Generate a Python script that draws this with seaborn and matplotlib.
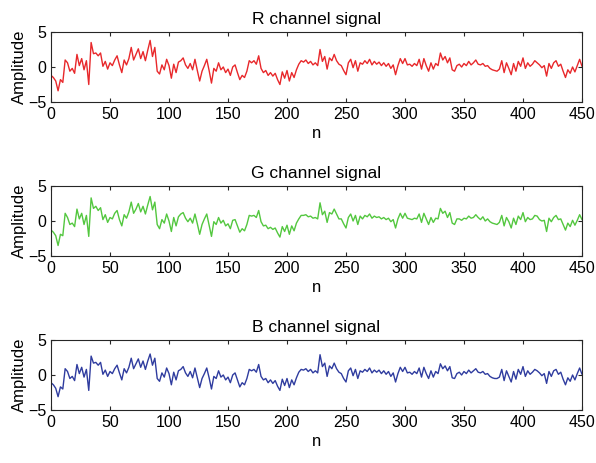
import numpy as np
import pandas as pd
import matplotlib
matplotlib.use("Agg")
import matplotlib.pyplot as plt
import seaborn as sns

# 采样序号（每隔2个点读取一次）
n_vals = np.arange(0, 451, 2)

# R 通道
r_vals = [
    -1.2, -1.5, -2.0, -3.4, -1.8,
    -2.2, 1.0, 0.6, -0.6, -0.2,
    -0.9, 1.8, 0.2, 1.2, -0.4,
    0.9, -2.5, 3.5, 1.9, 2.0,
    1.6, 2.0, 0.1, 0.8, -0.3,
    0.6, 0.2, 1.0, 1.6, 0.3,
    -0.8, 1.0, 0.3, 1.2, 2.8,
    1.0, 1.8, 2.6, 1.2, 2.2,
    0.9, 2.4, 3.8, 1.5, 2.8,
    -0.6, -1.0, 0.3, -0.4, 1.1,
    0.2, -1.6, 0.4, -0.8, 0.7,
    0.9, 1.3, 0.3, -0.2, 0.5,
    -0.4, 1.1, -0.5, -2.0, -0.6,
    0.2, 1.1, -0.5, -2.3, -0.2,
    -0.6, 0.6, -0.4, 0.0, -0.8,
    -0.3, -1.2, 0.0, 0.3, -0.8,
    -1.8, -1.2, -1.5, -0.6, 0.9,
    0.6, 0.9, 0.4, 1.6, -0.2,
    -0.8, -0.5, -1.2, -0.8, -1.3,
    -0.9, -1.8, -2.5, -0.7, -1.6,
    -0.5, -2.0, -0.8, -1.5, -0.4,
    0.4, 0.9, 0.7, 1.0, 0.5,
    0.8, 0.3, 0.6, 0.2, 2.5,
    0.8, 1.5, -0.3, 1.3, 0.9,
    1.8, 0.9, 0.4, 0.2, -0.5,
    -1.1, 0.6, 1.1, -0.1, 0.9,
    -0.6, 0.6, 0.4, 0.9, 0.5,
    1.1, 0.3, 0.8, 0.4, 0.7,
    0.2, 0.6, 0.1, 0.5, -0.2,
    0.3, -1.1, 0.2, 1.2, 0.5,
    1.2, 0.3, 0.4, 0.1, 0.5,
    0.2, 1.1, -0.3, 1.2, 0.2,
    -0.6, 0.6, -0.3, 0.5, 0.2,
    2.0, 1.0, 1.5, 0.6, 1.3,
    -0.4, -0.6, 0.2, 0.4, 0.0,
    0.5, 0.2, 0.8, 0.3, 0.6,
    1.0, 0.4, 0.3, 0.5, 0.1,
    0.2, -0.2, -0.4, -0.5, -0.6,
    -0.3, 0.9, -0.8, 0.6, -0.2,
    -1.1, 0.5, -0.6, 0.8, 0.1,
    1.3, -0.2, 0.6, 0.1, 0.4,
    0.9, 0.6, 0.3, -0.1, 0.2,
    -1.3, 0.5, -0.2, 0.6, 0.9,
    0.1, 0.4, -0.6, -1.5, -0.4,
    -0.9, 0.0, -0.7, 0.2, 1.1,
    0.1,
]

# G 通道
g_vals = [
    -1.3, -1.6, -2.1, -3.5, -1.9,
    -2.1, 1.1, 0.5, -0.5, -0.3,
    -0.8, 1.7, 0.3, 1.1, -0.5,
    0.8, -2.2, 3.3, 1.8, 2.1,
    1.5, 1.9, 0.2, 0.9, -0.2,
    0.5, 0.3, 1.1, 1.5, 0.2,
    -0.7, 0.9, 0.4, 1.3, 2.7,
    1.1, 1.7, 2.5, 1.3, 2.1,
    1.0, 2.3, 3.5, 1.6, 2.7,
    -0.5, -1.1, 0.2, -0.3, 1.0,
    0.0, -1.5, 0.5, -0.7, 0.6,
    1.0, 1.2, 0.4, -0.1, 0.4,
    -0.3, 1.0, -0.4, -1.9, -0.5,
    0.3, 1.0, -0.6, -2.2, -0.1,
    -0.5, 0.5, -0.3, 0.1, -0.7,
    -0.4, -1.1, 0.1, 0.2, -0.7,
    -1.6, -1.1, -1.4, -0.5, 0.8,
    0.7, 0.8, 0.5, 1.5, -0.1,
    -0.7, -0.6, -1.1, -0.9, -1.2,
    -1.0, -1.7, -2.3, -0.8, -1.5,
    -0.6, -1.9, -0.7, -1.4, -0.3,
    0.3, 0.8, 0.8, 0.9, 0.6,
    0.7, 0.4, 0.5, 0.3, 2.6,
    0.9, 1.4, -0.2, 1.2, 1.0,
    1.7, 1.0, 0.3, 0.3, -0.4,
    -1.0, 0.5, 1.0, 0.0, 0.8,
    -0.5, 0.7, 0.3, 0.8, 0.6,
    1.0, 0.4, 0.7, 0.5, 0.6,
    0.3, 0.5, 0.2, 0.4, -0.1,
    0.2, -1.0, 0.3, 1.1, 0.4,
    1.1, 0.4, 0.3, 0.2, 0.4,
    0.3, 1.0, -0.2, 1.1, 0.3,
    -0.5, 0.5, -0.2, 0.4, 0.3,
    1.8, 1.1, 1.4, 0.5, 1.2,
    -0.3, -0.5, 0.3, 0.3, 0.1,
    0.4, 0.3, 0.7, 0.4, 0.5,
    0.9, 0.5, 0.2, 0.6, 0.0,
    0.3, -0.1, -0.3, -0.4, -0.5,
    -0.2, 0.8, -0.7, 0.5, -0.1,
    -1.0, 0.4, -0.5, 0.7, 0.2,
    1.2, -0.1, 0.5, 0.2, 0.3,
    0.8, 0.7, 0.2, 0.0, 0.1,
    -1.5, 0.4, -0.1, 0.5, 0.8,
    0.2, 0.3, -0.5, -1.3, -0.3,
    -0.8, 0.1, -0.6, 0.1, 0.9,
    0.2,
]

# B 通道
b_vals = [
    -1.1, -1.4, -1.9, -3.1, -1.7,
    -2.0, 0.9, 0.5, -0.5, -0.2,
    -0.8, 1.5, 0.2, 1.1, -0.3,
    0.8, -2.2, 2.7, 1.7, 1.8,
    1.4, 1.8, 0.1, 0.7, -0.2,
    0.5, 0.2, 0.9, 1.4, 0.3,
    -0.7, 0.9, 0.3, 1.1, 2.4,
    0.9, 1.6, 2.3, 1.1, 2.0,
    0.8, 2.0, 3.0, 1.4, 2.4,
    -0.5, -0.9, 0.3, -0.3, 1.0,
    0.2, -1.4, 0.4, -0.7, 0.6,
    0.8, 1.2, 0.3, -0.2, 0.5,
    -0.4, 1.0, -0.4, -1.8, -0.5,
    0.2, 1.0, -0.4, -2.0, -0.2,
    -0.5, 0.6, -0.3, 0.0, -0.7,
    -0.3, -1.1, 0.0, 0.3, -0.7,
    -1.7, -1.1, -1.4, -0.5, 0.8,
    0.6, 0.8, 0.4, 1.5, -0.2,
    -0.7, -0.5, -1.1, -0.7, -1.2,
    -0.8, -1.6, -2.2, -0.6, -1.5,
    -0.5, -1.8, -0.7, -1.4, -0.4,
    0.4, 0.8, 0.7, 0.9, 0.5,
    0.8, 0.3, 0.6, 0.3, 2.9,
    1.2, 1.7, -0.2, 1.3, 0.9,
    1.7, 0.9, 0.4, 0.2, -0.5,
    -1.0, 0.6, 1.0, -0.1, 0.8,
    -0.5, 0.6, 0.4, 0.8, 0.5,
    1.0, 0.3, 0.7, 0.4, 0.7,
    0.2, 0.6, 0.1, 0.5, -0.2,
    0.3, -1.0, 0.2, 1.1, 0.5,
    1.1, 0.3, 0.4, 0.1, 0.5,
    0.2, 1.0, -0.3, 1.1, 0.2,
    -0.5, 0.6, -0.3, 0.5, 0.2,
    1.6, 0.9, 1.3, 0.6, 1.2,
    -0.4, -0.5, 0.2, 0.4, 0.0,
    0.5, 0.2, 0.7, 0.3, 0.6,
    0.9, 0.4, 0.3, 0.5, 0.1,
    0.2, -0.2, -0.4, -0.5, -0.5,
    -0.3, 0.8, -0.8, 0.6, -0.2,
    -1.0, 0.5, -0.6, 0.8, 0.1,
    1.2, -0.2, 0.6, 0.1, 0.4,
    0.8, 0.6, 0.3, -0.1, 0.2,
    -1.2, 0.5, -0.2, 0.6, 0.8,
    0.1, 0.4, -0.6, -1.4, -0.4,
    -0.9, 0.0, -0.7, 0.2, 1.0,
    0.1,
]

channels = ["R", "G", "B"]
colors = ["#E8282B", "#53C73F", "#2F3C9F"]
x_ticks = list(range(0, 451, 50))
y_ticks = [-5, 0, 5]

df = pd.DataFrame({"n": n_vals, "R": r_vals, "G": g_vals, "B": b_vals})

sns.set_theme(style="ticks")
plt.rcParams["font.family"] = ["Liberation Sans", "DejaVu Sans"]
plt.rcParams["text.color"] = "black"
plt.rcParams["axes.labelcolor"] = "black"

fig = plt.figure(figsize=(5.96, 4.63), dpi=100, facecolor="white")
W, H = 596, 463
tops = [32, 186, 340]

for ch, color, top in zip(channels, colors, tops):
    ax = fig.add_axes([51 / W, 1 - (top + 70) / H, 531 / W, 70 / H])
    sns.lineplot(data=df, x="n", y=ch, color=color, linewidth=1.0, ax=ax)
    ax.set_xlim(0, 450)
    ax.set_ylim(-5, 5)
    ax.set_xticks(x_ticks)
    ax.set_yticks(y_ticks)
    ax.tick_params(direction="in", top=True, right=True, length=3,
                   width=0.8, labelsize=11.5, colors="#262626", labelcolor="black")
    for sp in ax.spines.values():
        sp.set_linewidth(0.8)
        sp.set_color("#262626")
    ax.set_title(f"{ch} channel signal", fontsize=12.5, pad=6, color="black")
    ax.set_xlabel("n", fontsize=12, labelpad=3)
    ax.set_ylabel("Amplitude", fontsize=12, labelpad=1)

plt.savefig("out.png", dpi=100, facecolor="white")
plt.close()
